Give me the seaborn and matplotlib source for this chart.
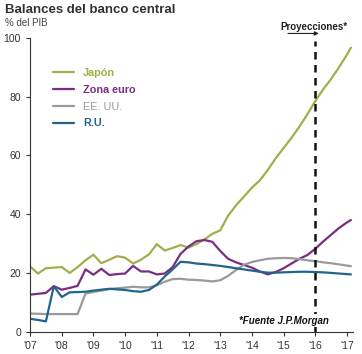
import numpy as np
import pandas as pd
import seaborn as sns
import matplotlib.pyplot as plt

# quarterly points (% del PIB)
years = [2007.0 + 0.25 * i for i in range(41)] + [2017.125]

japon = [22.2, 19.8, 21.6, 21.8, 22.0, 20.0, 22.0, 24.3, 26.2, 23.3, 24.5, 25.7,
         25.2, 23.2, 24.5, 26.3, 29.8, 27.6, 28.5, 29.5, 28.6, 29.8, 31.4, 33.3,
         34.5, 39.5, 43.0, 46.0, 49.0, 51.5, 55.0, 59.0, 62.5, 66.0, 69.8, 74.0,
         78.5, 82.5, 86.0, 90.0, 94.3, 96.7]
zona_euro = [12.6, 12.9, 13.2, 15.5, 14.3, 14.9, 15.6, 21.2, 19.4, 21.4, 19.3, 19.6,
             19.8, 22.4, 20.5, 20.5, 19.5, 19.8, 22.0, 26.5, 29.0, 30.8, 31.2, 30.6,
             27.5, 24.8, 23.6, 22.7, 21.8, 20.5, 19.5, 20.3, 21.6, 23.2, 24.8, 26.1,
             28.2, 30.7, 33.0, 35.3, 37.2, 38.0]
eeuu = [6.2, 6.1, 6.0, 6.0, 6.0, 6.0, 6.0, 13.0, 13.5, 14.0, 14.5, 14.8,
        15.0, 15.3, 15.1, 15.1, 15.8, 17.0, 17.9, 18.0, 17.7, 17.6, 17.4, 17.1,
        17.5, 19.0, 21.0, 22.8, 23.7, 24.3, 24.8, 25.0, 25.1, 25.0, 24.7, 24.3,
        24.0, 23.6, 23.3, 22.9, 22.5, 22.3]
ru = [4.4, 4.0, 3.5, 15.5, 11.8, 13.4, 13.5, 13.6, 14.0, 14.3, 14.6, 14.4,
      14.2, 13.8, 13.6, 14.2, 16.0, 18.8, 21.2, 23.8, 23.6, 23.2, 23.0, 22.7,
      22.4, 22.0, 21.6, 21.2, 20.8, 20.4, 20.1, 20.1, 20.2, 20.3, 20.4, 20.4,
      20.3, 20.2, 20.0, 19.8, 19.6, 19.5]

series = ["Japón", "Zona euro", "EE. UU.", "R.U."]
colors = ["#a3ad4a", "#7a2e82", "#9a9a9a", "#23648f"]
xticks = list(range(2007, 2018))
xticklabels = ["'07", "'08", "'09", "'10", "'11", "'12", "'13", "'14", "'15", "'16", "'17"]

df = pd.DataFrame({
    "year": years * 4,
    "value": japon + zona_euro + eeuu + ru,
    "serie": sum([[s] * len(years) for s in series], []),
})

sns.set_style("ticks")
plt.rcParams['font.family'] = ['Liberation Sans', 'DejaVu Sans']

fig = plt.figure(figsize=(3.62, 3.54), dpi=100)
ax = fig.add_axes([0.083, 0.063, 0.893, 0.830])

sns.lineplot(data=df, x="year", y="value", hue="serie", hue_order=series,
             palette=colors, linewidth=1.6, ax=ax, legend=False)

ax.axvline(2016, ymin=0, ymax=0.99, color="#111111", lw=1.8, ls=(0, (3, 2.2)))

ax.set_xlim(2007, 2017.2)
ax.set_ylim(0, 100)
ax.set_xticks(xticks)
ax.set_xticklabels(xticklabels)
ax.set_yticks(range(0, 101, 20))
ax.set_xlabel("")
ax.set_ylabel("")
ax.tick_params(axis='both', labelsize=7.5, colors="#333333", length=3, width=0.8)
for s in ["top", "right"]:
    ax.spines[s].set_visible(False)
for s in ["left", "bottom"]:
    ax.spines[s].set_color("#333333")
    ax.spines[s].set_linewidth(0.8)

# legend
handles = [plt.Line2D([], [], color=c, lw=1.6) for c in colors]
leg = ax.legend(handles, series, loc="upper left", bbox_to_anchor=(0.04, 0.93),
                frameon=False, fontsize=7.8, handlelength=2.0, handletextpad=0.8,
                labelspacing=0.62)
for t, c, w in zip(leg.get_texts(), colors, ["bold", "bold", "normal", "bold"]):
    t.set_color(c)
    t.set_fontweight(w)

fig.text(0.014, 0.972, "Balances del banco central", fontsize=9.5, fontweight="bold",
         color="#333333", va="center")
fig.text(0.014, 0.935, "% del PIB", fontsize=7, color="#444444", va="center")

fig.text(0.868, 0.924, "Proyecciones*", fontsize=7, fontweight="bold",
         color="#222222", ha="center", va="center")
ax.annotate("", xy=(2016.2, 101.5), xytext=(2015.05, 101.5), xycoords="data",
            annotation_clip=False,
            arrowprops=dict(arrowstyle="-|>", color="#222222", lw=0.8,
                            mutation_scale=6))

ax.text(2015.0, 2.0, "*Fuente J.P.Morgan", fontsize=7, fontweight="bold",
        fontstyle="italic", color="#111111", ha="center", va="bottom", zorder=5,
        bbox=dict(facecolor="white", edgecolor="none", pad=1.0))

fig.savefig("out.png", dpi=100, facecolor="white")
